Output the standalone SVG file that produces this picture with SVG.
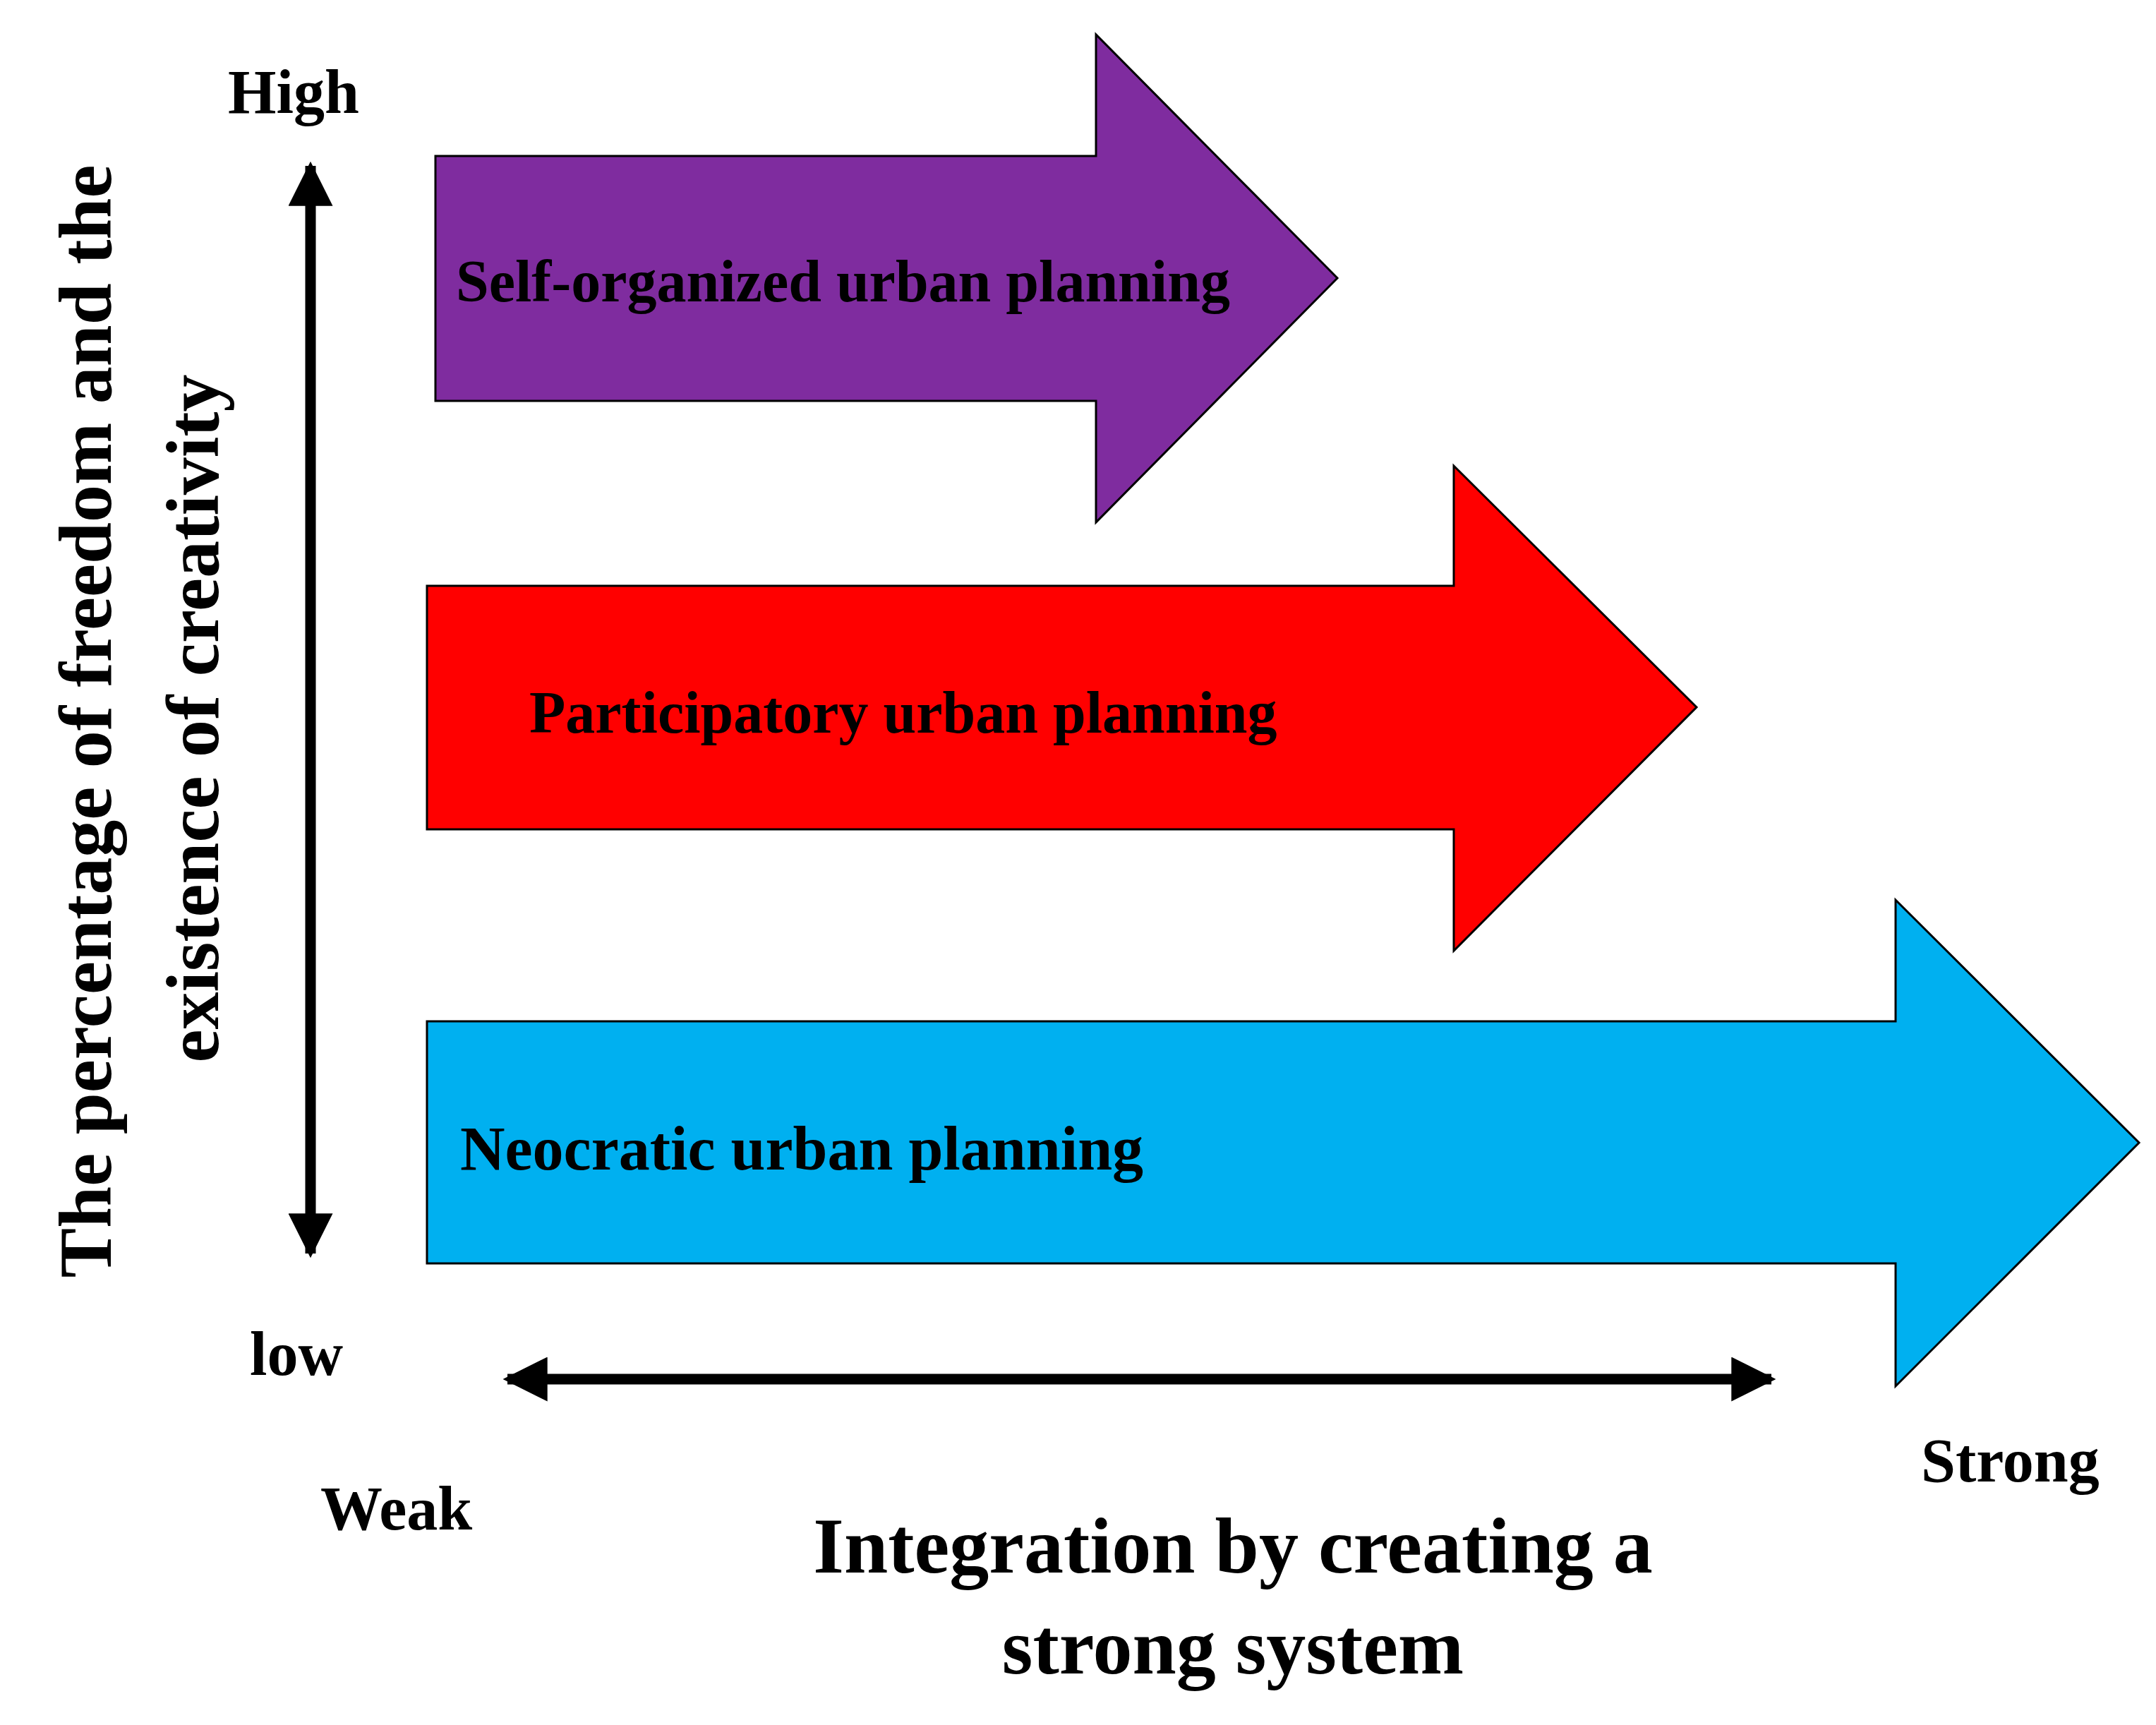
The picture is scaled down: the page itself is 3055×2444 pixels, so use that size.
<svg xmlns="http://www.w3.org/2000/svg" width="3055" height="2444" viewBox="0 0 3055 2444">
<defs>
<style>
text{font-family:"Liberation Serif","Times New Roman",serif;font-weight:bold;fill:#000}
.arr{stroke:#000;stroke-width:3}
.lbl{font-size:84px}
.ax{font-size:88px}
</style>
<marker id="ah" viewBox="0 0 10 10" refX="9" refY="5" markerWidth="4.2" markerHeight="4.2" orient="auto-start-reverse" markerUnits="strokeWidth"><path d="M0,0 L10,5 L0,10 z" fill="#000"/></marker>
</defs>
<rect width="3055" height="2444" fill="#fff"/>
<g id="self-organized">
<path class="arr" fill="#7F2C9F" d="M617,221 H1553 V49 L1895,394 L1553,740 V568 H617 Z"/>
<text class="lbl" x="646" y="427">Self-organized urban planning</text>
</g>
<g id="participatory">
<path class="arr" fill="#FF0000" d="M605,830 H2060 V660 L2404,1002 L2060,1347 V1175 H605 Z"/>
<text class="lbl" x="750" y="1038">Participatory urban planning</text>
</g>
<g id="neocratic">
<path class="arr" fill="#00B0F0" d="M605,1447 H2686 V1275 L3031,1619 L2686,1964 V1790 H605 Z"/>
<text class="ax" x="652" y="1657">Neocratic urban planning</text>
</g>
<g id="connectors" stroke="#000" stroke-width="15">
<line x1="440" y1="235" x2="440" y2="1776" marker-start="url(#ah)" marker-end="url(#ah)"/>
<line x1="719" y1="1954" x2="2510" y2="1954" marker-start="url(#ah)" marker-end="url(#ah)"/>
</g>
<g id="labels">
<text class="ax" x="323" y="160">High</text>
<text class="ax" x="354" y="1948">low</text>
<text class="ax" x="454" y="2167">Weak</text>
<text class="ax" x="2722" y="2099">Strong</text>
<text font-size="112" text-anchor="middle" x="1747" y="2228">Integration by creating a</text>
<text font-size="112" text-anchor="middle" x="1747" y="2371">strong system</text>
<text font-size="106" text-anchor="middle" transform="translate(157,1022) rotate(-90)">The percentage of freedom and the</text>
<text font-size="106" text-anchor="middle" transform="translate(309,1018) rotate(-90)">existence of creativity</text>
</g>
</svg>
